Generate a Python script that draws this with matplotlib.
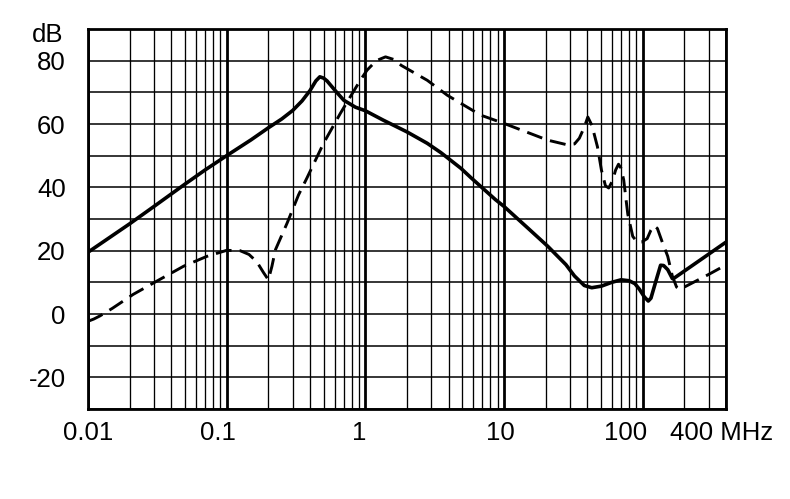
import matplotlib
matplotlib.use("Agg")
import matplotlib.pyplot as plt
import matplotlib.transforms as mtransforms
from matplotlib.ticker import FixedLocator, MultipleLocator, NullFormatter

# ---- data ----
solid_f = [0.01, 0.02, 0.03, 0.05, 0.07, 0.1, 0.15, 0.2, 0.25, 0.3, 0.35, 0.4, 0.44, 0.47, 0.5,
           0.53, 0.6, 0.7, 0.85, 1.0, 1.35, 2.0, 2.8, 3.5, 3.9, 4.9, 5.8, 8.7, 10,
           15, 20.7, 28, 32.3, 38, 43, 50.5, 60, 70, 80, 88, 95, 103, 110, 115,
           120, 128, 135, 142, 152, 164, 170, 400]
solid_db = [19.5, 28.5, 34.0, 41.0, 45.5, 50.0, 55.0, 58.8, 61.6, 64.3, 67.3, 70.6, 73.6, 74.9, 74.5,
            73.6, 70.8, 67.5, 65.3, 64.2, 61.2, 57.5, 53.9, 51.0, 49.4, 46.0, 43.0, 36.1, 34.0,
            27.0, 21.4, 15.6, 12.0, 9.0, 8.3, 8.8, 10.0, 10.8, 10.5, 9.6, 7.8, 5.4, 4.1, 5.0,
            7.8, 12.0, 15.4, 15.3, 14.0, 11.2, 11.4, 22.7]

dash_f = [0.01, 0.011, 0.0122, 0.015, 0.0212, 0.0314, 0.049, 0.072, 0.1, 0.125, 0.145,
          0.165, 0.185, 0.2, 0.212, 0.225, 0.273, 0.33, 0.38, 0.5, 0.66, 0.78, 0.92,
          1.03, 1.2, 1.4, 1.6, 1.82, 2.8, 3.9, 4.9, 6.8, 10, 20.7, 28.8, 32.3, 35, 38,
          40.3, 43.2, 47.3, 50.5, 54, 57, 60.6, 64, 67.1, 70, 73.1, 78.3, 85, 92, 98.4,
          108, 115, 121, 128, 138, 152, 164, 176, 185, 200, 258, 300, 400]
dash_db = [-2.3, -1.6, -0.6, 1.8, 6.2, 10.4, 15.1, 18.2, 20.1, 20.0, 18.8,
           16.5, 13.0, 10.8, 15.0, 20.3, 28.7, 37.6, 43.0, 53.9, 63.3, 68.6, 73.8,
           77.0, 80.0, 81.2, 80.4, 78.5, 73.8, 69.1, 66.5, 62.8, 60.2, 54.9, 53.4, 53.7, 55.5, 59.0,
           62.2, 59.5, 52.8, 45.5, 40.5, 39.8, 42.0, 45.5, 47.3, 46.0, 42.4, 31.5, 24.5, 22.6, 22.7,
           23.8, 26.5, 27.9, 27.0, 23.0, 18.2, 12.0, 8.5, 7.8, 8.5, 11.0, 12.5, 15.5]

x_ticks = [0.01, 0.1, 1, 10, 100, 400]
x_labels = ["0.01", "0.1", "1", "10", "100", "400 MHz"]
y_ticks = [-20, 0, 20, 40, 60, 80]
y_labels = ["-20", "0", "20", "40", "60", "80"]
minor_x = [m * d for d in (0.01, 0.1, 1, 10) for m in range(2, 10)] + [200, 300]

plt.rcParams["font.family"] = ["Liberation Sans", "DejaVu Sans"]

fig = plt.figure(figsize=(7.9, 4.99), dpi=100)
ax = fig.add_axes([88 / 790, 1 - 409 / 499, (726 - 88) / 790, (409 - 29) / 499])

ax.set_xscale("log")
ax.set_xlim(0.01, 400)
ax.set_ylim(-30, 90)

ax.xaxis.set_major_locator(FixedLocator(x_ticks))
ax.xaxis.set_minor_locator(FixedLocator(minor_x))
ax.xaxis.set_minor_formatter(NullFormatter())
ax.set_xticklabels(x_labels)
ax.yaxis.set_major_locator(FixedLocator(y_ticks))
ax.set_yticklabels(y_labels)
ax.yaxis.set_minor_locator(MultipleLocator(10))

ax.tick_params(axis="both", which="both", length=0)
ax.tick_params(axis="x", which="major", labelsize=18.5, pad=9)
ax.tick_params(axis="y", which="major", labelsize=18.5, pad=16)

ax.grid(True, axis="x", which="major", color="black", lw=2.0)
ax.grid(True, axis="x", which="minor", color="black", lw=0.95)
ax.grid(True, axis="y", which="both", color="black", lw=1.1)

for s in ax.spines.values():
    s.set_linewidth(2.0)
    s.set_color("black")

# label offsets (pixels) to follow the reference placement
offsets = [0, -9, -6, -4, -17, -4]
for lab, dx in zip(ax.get_xticklabels(), offsets):
    lab.set_transform(lab.get_transform() + mtransforms.ScaledTranslation(dx / 100, 0, fig.dpi_scale_trans))

ax.plot(solid_f, solid_db, color="black", lw=2.6, solid_joinstyle="round", zorder=5)
ax.plot(dash_f, dash_db, color="black", lw=2.1, dashes=(5.5, 2.8), zorder=5)

fig.text(63 / 790, 1 - 42 / 499, "dB", ha="right", va="baseline", fontsize=18.5)

fig.savefig("out.png", dpi=100)
